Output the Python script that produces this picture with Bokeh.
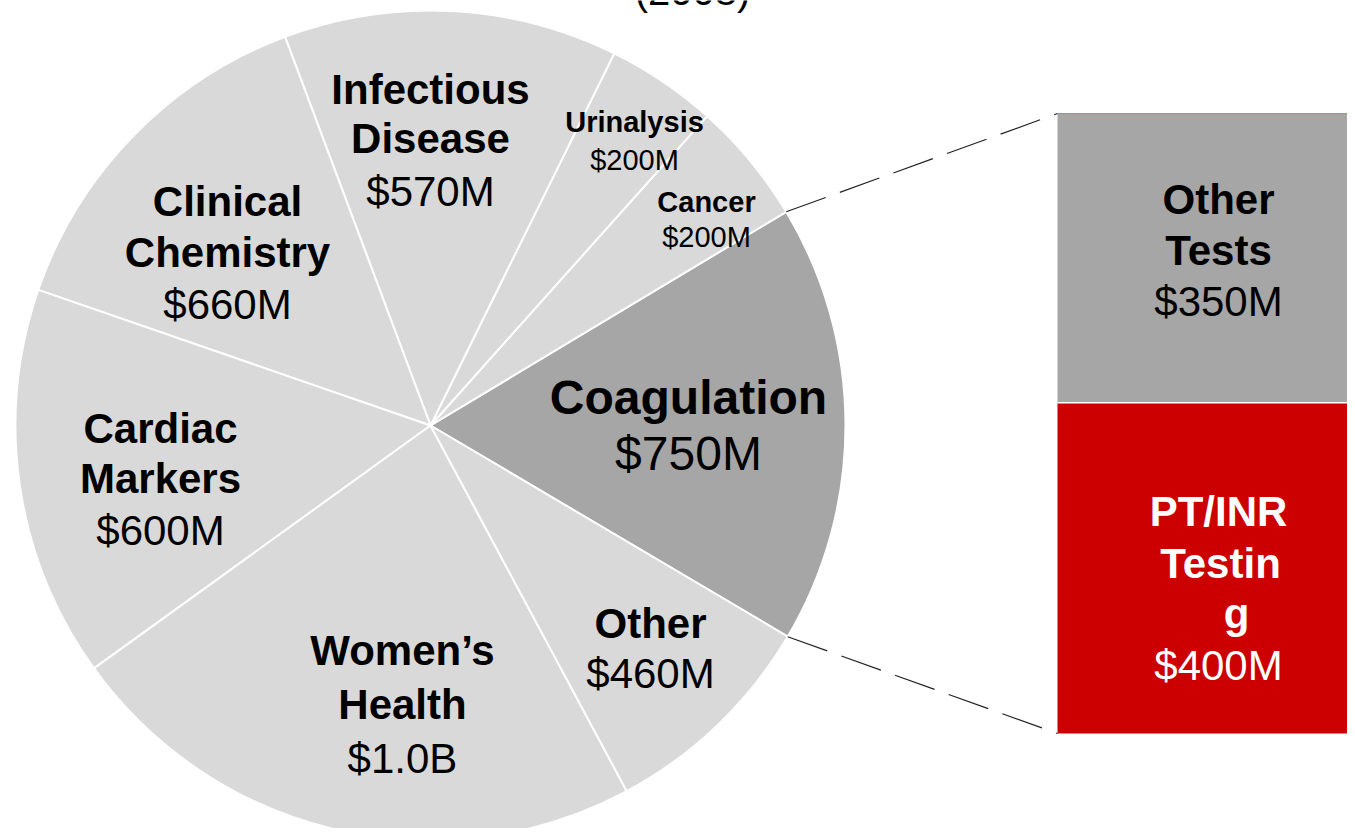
import math
from bokeh.plotting import figure
from bokeh.models import Range1d
from bokeh.core.properties import value
from bokeh.embed import file_html
from bokeh.resources import INLINE

# ---------------- data ----------------
categories = ["Coagulation", "Cancer", "Urinalysis", "Infectious\nDisease",
              "Clinical\nChemistry", "Cardiac\nMarkers", "Women\u2019s\nHealth", "Other"]
value_labels = ["$750M", "$200M", "$200M", "$570M", "$660M", "$600M", "$1.0B", "$460M"]
# slice sizes as drawn in the picture (percent of the pie)
slice_pct = [17.11, 4.78, 4.31, 13.00, 14.00, 15.25, 22.89, 8.67]
slice_colors = ["#a6a6a6", "#d9d9d9", "#d9d9d9", "#d9d9d9", "#d9d9d9", "#d9d9d9", "#d9d9d9", "#d9d9d9"]

bar_categories = ["PT/INR\nTestin\ng", "Other\nTests"]
bar_values = [400, 350]          # $M, stacked bottom -> top
bar_value_labels = ["$400M", "$350M"]
bar_colors = ["#cc0000", "#a6a6a6"]
title_text = "(2008)"

# ---------------- layout ----------------
W, H = 1347, 828
def sx(X):  # picture x -> data x
    return X
def sy(Y):  # picture y -> data y
    return H - Y

p = figure(width=W, height=H, x_range=Range1d(0, W), y_range=Range1d(0, H),
           output_backend="svg", toolbar_location=None, min_border=0)
p.axis.visible = False
p.grid.visible = False
p.outline_line_color = None
p.background_fill_color = "white"
p.border_fill_color = "white"

FONT = value("Liberation Sans")

# pie
cx, cy, R = sx(430), sy(425), 415
start0 = -30.6
starts, ends = [], []
acc = start0
for pct in slice_pct:
    starts.append(math.radians(acc))
    acc += pct / 100 * 360
    ends.append(math.radians(acc))
p.wedge(x=cx, y=cy, radius=R, start_angle=starts, end_angle=ends,
        fill_color=slice_colors, line_color="white", line_width=2)

# stacked bar on its own value scale
bar_bottom_Y, bar_top_Y = 733, 113
k = (bar_bottom_Y - bar_top_Y) / sum(bar_values)
p.extra_y_ranges = {"bar": Range1d(start=(bar_bottom_Y - H) / k, end=bar_bottom_Y / k)}
bottoms, tops = [], []
c = 0
for v in bar_values:
    bottoms.append(c)
    c += v
    tops.append(c)
bar_left, bar_right = sx(1057), W + 5
p.quad(left=bar_left, right=bar_right, bottom=bottoms, top=tops, y_range_name="bar",
       fill_color=bar_colors, line_color=None)
# separator and top edge
p.line(x=[bar_left, bar_right], y=[bottoms[1], bottoms[1]], y_range_name="bar",
       line_color="white", line_width=1.5)
p.line(x=[bar_left, bar_right], y=[tops[-1], tops[-1]], y_range_name="bar",
       line_color="#e57373", line_width=1)

# connector dashed lines from coagulation slice edges to bar corners
a_top = ends[0]
a_bot = starts[0]
bar_top_y = sy(bar_top_Y)
bar_bot_y = sy(bar_bottom_Y)
p.line(x=[cx + R * math.cos(a_top), bar_left], y=[cy + R * math.sin(a_top), bar_top_y],
       line_color="#222222", line_width=1.2, line_dash="42 15")
p.line(x=[cx + R * math.cos(a_bot), bar_left], y=[cy + R * math.sin(a_bot), bar_bot_y],
       line_color="#222222", line_width=1.2, line_dash="42 15")

def put(text, X, Y, size, bold, color="black"):
    # Y is the wanted baseline in picture pixels
    Yreq = Y - 0.41 * size
    p.text(x=[sx(X)], y=[sy(Yreq)], text=[text], text_align="center",
           text_baseline="alphabetic", text_font=FONT, text_font_size=f"{size}px",
           text_font_style="bold" if bold else "normal", text_color=color)

# label anchors (center x, baselines) and font sizes per slice
label_pos = {
    0: (688, [417, 473], 48),
    1: (706, [213, 248], 29),
    2: (634, [133, 171], 29),
    3: (430, [106, 155, 208], 42),
    4: (227, [218, 269, 321], 42),
    5: (160, [445, 495, 547], 42),
    6: (402, [667, 721, 775], 42),
    7: (650, [640, 690], 42),
}
for i, (name, val) in enumerate(zip(categories, value_labels)):
    X, ys, size = label_pos[i]
    lines = name.split("\n")
    for line, Y in zip(lines, ys):
        put(line, X, Y, size, True)
    put(val, X, ys[len(lines)], size, False)

# bar labels
bar_label_pos = {
    0: ([(1218, 528), (1220, 580), (1236, 630)], (1218, 682), "white"),
    1: ([(1218, 216), (1218, 267)], (1218, 318), "black"),
}
for i, (name, val) in enumerate(zip(bar_categories, bar_value_labels)):
    pos, vpos, col = bar_label_pos[i]
    for line, (X, Y) in zip(name.split("\n"), pos):
        put(line, X, Y, 42, True, col)
    put(val, vpos[0], vpos[1], 42, False, col)

# title (cut off at the top edge as in the reference)
put(title_text, 692, 7, 40, False)

open("out.html", "w").write(file_html(p, INLINE))
